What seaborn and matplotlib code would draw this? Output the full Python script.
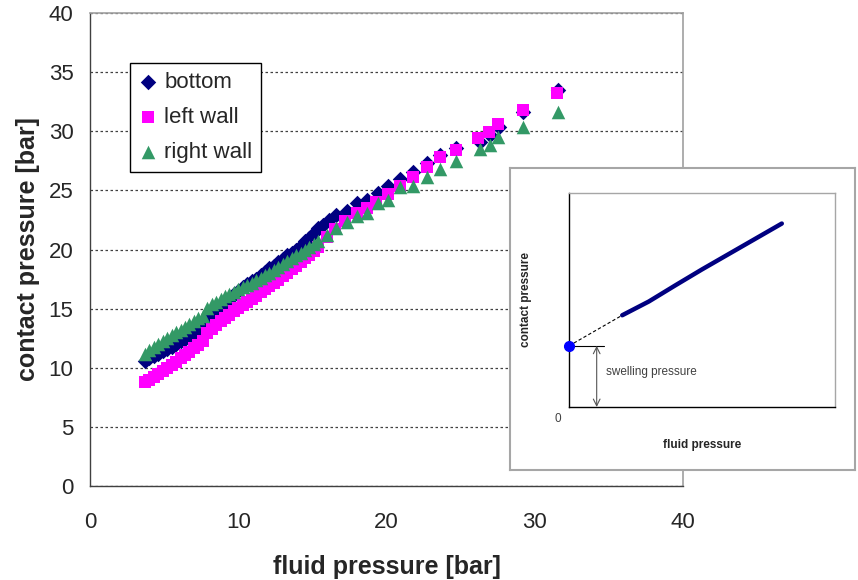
import numpy as np
import pandas as pd
import matplotlib
matplotlib.use("Agg")
import matplotlib.pyplot as plt
import seaborn as sns

# data
bottom_x = [3.7, 4.0, 4.3, 4.6, 4.9, 5.2, 5.5, 5.8, 6.1, 6.4, 6.7, 7.0, 7.3, 7.6,
            7.9, 8.2, 8.5, 8.8, 9.1, 9.4, 9.7, 10.0, 10.3, 10.6, 10.9, 11.2, 11.5,
            11.8, 12.1, 12.4, 12.7, 13.0, 13.3, 13.6, 13.9, 14.2, 14.5, 14.8, 15.1,
            15.4, 15.7, 16.1, 16.6, 17.3, 18.0, 18.7, 19.4, 20.1, 20.9, 21.8, 22.7,
            23.6, 24.7, 26.3, 27.0, 27.6, 29.2, 31.6]
bottom_y = [10.6, 10.8, 11.0, 11.2, 11.4, 11.6, 11.8, 12.0, 12.25, 12.45, 12.65, 12.85,
            13.05, 13.3, 14.1, 14.5, 14.9, 15.2, 15.5, 15.75, 16.2, 16.5, 16.8, 17.05,
            17.3, 17.55, 17.85, 18.1, 18.4, 18.65, 18.95, 19.2, 19.5, 19.75, 20.0, 20.3,
            20.7, 21.0, 21.4, 21.8, 22.1, 22.5, 22.9, 23.3, 23.9, 24.2, 24.8, 25.4, 26.0,
            26.6, 27.3, 28.0, 28.6, 29.1, 29.7, 30.4, 31.6, 33.5]

left_x = [3.7, 4.0, 4.3, 4.6, 4.9, 5.2, 5.5, 5.8, 6.1, 6.4, 6.7, 7.0, 7.3, 7.6,
          7.9, 8.2, 8.5, 8.8, 9.1, 9.4, 9.7, 10.0, 10.3, 10.6, 10.9, 11.2, 11.5,
          11.8, 12.1, 12.4, 12.7, 13.0, 13.3, 13.6, 13.9, 14.2, 14.5, 14.8, 15.1,
          15.4, 15.95, 16.5, 17.2, 18.0, 18.65, 19.3, 20.1, 20.9, 21.8, 22.7, 23.6,
          24.7, 26.2, 26.9, 27.5, 29.2, 31.5]
left_y = [8.8, 9.0, 9.2, 9.45, 9.7, 9.95, 10.2, 10.5, 10.8, 11.05, 11.35, 11.65,
          11.95, 12.3, 12.95, 13.3, 13.6, 13.95, 14.25, 14.5, 14.8, 15.05, 15.3, 15.6,
          15.85, 16.1, 16.4, 16.65, 16.9, 17.15, 17.4, 17.75, 18.05, 18.35, 18.65,
          18.95, 19.25, 19.55, 19.85, 20.2, 21.1, 21.7, 22.4, 23.1, 23.5, 24.0, 24.7,
          25.4, 26.1, 27.0, 27.8, 28.4, 29.4, 29.95, 30.6, 31.8, 33.2]

right_x = [3.7, 4.0, 4.3, 4.6, 4.9, 5.2, 5.5, 5.8, 6.1, 6.4, 6.7, 7.0, 7.3, 7.6,
           7.9, 8.2, 8.5, 8.8, 9.1, 9.4, 9.7, 10.0, 10.3, 10.6, 10.9, 11.2, 11.5,
           11.8, 12.1, 12.4, 12.7, 13.0, 13.3, 13.6, 13.9, 14.2, 14.5, 14.8, 15.1,
           15.4, 15.95, 16.6, 17.3, 18.0, 18.7, 19.4, 20.1, 20.9, 21.8, 22.7, 23.6,
           24.7, 26.3, 27.0, 27.5, 29.2, 31.6]
right_y = [11.2, 11.5, 11.75, 12.0, 12.25, 12.5, 12.75, 13.0, 13.2, 13.45, 13.7, 13.95,
           14.2, 14.4, 15.05, 15.4, 15.6, 15.85, 16.05, 16.25, 16.45, 16.65, 16.85, 17.0,
           17.2, 17.4, 17.6, 17.85, 18.05, 18.3, 18.5, 18.75, 19.0, 19.25, 19.5, 19.7,
           19.95, 20.2, 20.45, 20.7, 21.2, 21.8, 22.3, 22.8, 23.1, 23.9, 24.2, 25.3,
           25.4, 26.1, 26.8, 27.5, 28.5, 28.8, 29.5, 30.4, 31.6]

series_names = ["bottom", "left wall", "right wall"]
series_colors = ["#000080", "#FF00FF", "#339966"]
series_markers = ["D", "s", "^"]
series_sizes = [62, 72, 95]

x_ticks = [0, 10, 20, 30, 40]
y_ticks = [0, 5, 10, 15, 20, 25, 30, 35, 40]

# sketch in the inset (arbitrary units)
inset_line_x = [1.0, 1.5, 2.0, 2.5, 3.0, 3.5, 4.0]
inset_line_y = [3.0, 3.45, 3.98, 4.5, 5.0, 5.5, 6.0]
swelling_x = [0.0, 0.65]
swelling_y = [2.0, 2.0]
extrap_x = [0.0, 1.0]
extrap_y = [2.0, 3.0]

sns.set_style("white")
plt.rcParams['font.family'] = ['Liberation Sans', 'DejaVu Sans']

fig = plt.figure(figsize=(8.58, 5.8), dpi=100)
ax = fig.add_axes([0.105, 0.162, 0.691, 0.8155])

all_x = [bottom_x, left_x, right_x]
all_y = [bottom_y, left_y, right_y]
for name, xs, ys, col, mk, sz in zip(series_names, all_x, all_y, series_colors,
                                       series_markers, series_sizes):
    df = pd.DataFrame({"fluid": xs, "contact": ys})
    sns.scatterplot(data=df, x="fluid", y="contact", ax=ax, color=col, marker=mk,
                    s=sz, linewidth=0, label=name, zorder=3)

ax.set_xlim(0, 40)
ax.set_ylim(0, 40)
ax.set_xticks(x_ticks)
ax.set_yticks(y_ticks)
ax.yaxis.grid(True, linestyle=(0, (2, 2)), color="#404040", linewidth=0.9)
ax.xaxis.grid(False)
for side in ["top", "right"]:
    ax.spines[side].set_color("#A0A0A0")
    ax.spines[side].set_linewidth(1.2)
for side in ["left", "bottom"]:
    ax.spines[side].set_color("#404040")
    ax.spines[side].set_linewidth(1.0)
ax.tick_params(axis="y", direction="out", length=5, width=1, color="#404040",
               labelsize=16, pad=7)
ax.tick_params(axis="x", direction="inout", length=9, width=1, color="#404040",
               labelsize=16, pad=14)
ax.set_xlabel("fluid pressure [bar]", fontsize=18, fontweight="bold", labelpad=16)
ax.set_ylabel("contact pressure [bar]", fontsize=18, fontweight="bold", labelpad=6)

leg = ax.legend(loc="upper left", bbox_to_anchor=(0.067, 0.894), borderaxespad=0,
                fontsize=16, frameon=True, fancybox=False, framealpha=1,
                edgecolor="black", labelspacing=0.62, borderpad=0.4,
                handlelength=0.8, handletextpad=0.35)
leg.get_frame().set_linewidth(1.0)

# inset box
box = fig.add_axes([0.594, 0.190, 0.4025, 0.5207])
box.set_xticks([])
box.set_yticks([])
box.set_facecolor("white")
for s in box.spines.values():
    s.set_color("#A6A6A6")
    s.set_linewidth(1.5)

ax_in = fig.add_axes([0.6632, 0.2983, 0.3100, 0.3690])
sns.lineplot(x=inset_line_x, y=inset_line_y, ax=ax_in, color="#000080",
             linewidth=3.2, sort=False)
ax_in.plot(extrap_x, extrap_y, color="black", linewidth=0.8, dashes=(3, 2))
ax_in.plot(swelling_x, swelling_y, color="black", linewidth=0.8)
ax_in.plot(extrap_x[:1], extrap_y[:1], "o", color="#0000FF", markersize=7,
           clip_on=False, zorder=5)
ax_in.annotate("", xy=(0.52, 0.0), xytext=(0.52, swelling_y[0]),
               arrowprops=dict(arrowstyle="<->", color="#555555", lw=0.8,
                               mutation_scale=12, shrinkA=0, shrinkB=0))
ax_in.text(0.7, 1.15, "swelling pressure", fontsize=8.5, color="#404040",
           ha="left", va="center")
ax_in.text(-0.15, -0.2, "0", fontsize=8.5, color="#404040", ha="right", va="top")
ax_in.set_xlim(0, 5)
ax_in.set_ylim(0, 7)
ax_in.set_xticks(range(0, 6))
ax_in.set_yticks(range(0, 8))
ax_in.set_xticklabels([])
ax_in.set_yticklabels([])
ax_in.tick_params(direction="out", length=3.5, width=0.8, color="black")
ax_in.spines["left"].set_color("black")
ax_in.spines["bottom"].set_color("black")
ax_in.spines["top"].set_color("#A6A6A6")
ax_in.spines["right"].set_color("#A6A6A6")
for s in ax_in.spines.values():
    s.set_linewidth(1.0)
ax_in.set_xlabel("fluid pressure", fontsize=8.5, fontweight="bold", labelpad=16)
ax_in.set_ylabel("contact pressure", fontsize=8.5, fontweight="bold", labelpad=20)

fig.savefig("out.png", dpi=100)
plt.close()
